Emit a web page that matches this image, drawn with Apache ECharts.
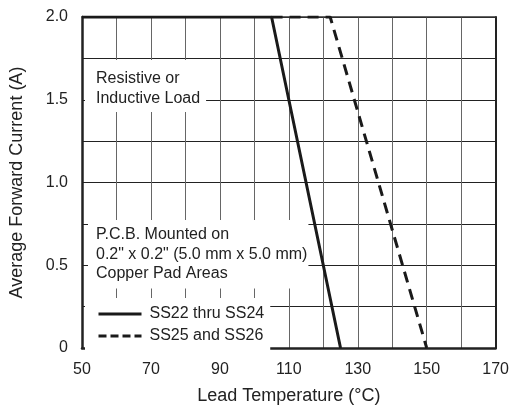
<!DOCTYPE html>
<html><head><meta charset="utf-8">
<script src="https://cdn.jsdelivr.net/npm/echarts@6/dist/echarts.min.js"></script>
<style>html,body{margin:0;padding:0;background:#fff}#c{width:512px;height:410px}</style>
</head><body><div id="c"></div>
<script>
var solidName = 'SS22 thru SS24';
var dashedName = 'SS25 and SS26';
var solidData = [[50, 2.0], [105, 2.0], [125, 0]];
var dashedData = [[105, 2.0], [122, 2.0], [150, 0]];
var xTickLabels = [50, 70, 90, 110, 130, 150, 170];
var yTickLabels = {0: '0', 0.5: '0.5', 1: '1.0', 1.5: '1.5', 2: '2.0'};
var note1 = 'Resistive or\nInductive Load';
var note2 = 'P.C.B. Mounted on\n0.2" x 0.2" (5.0 mm x 5.0 mm)\nCopper Pad Areas';

var font = 'Liberation Sans, Arial, sans-serif';
var chart = echarts.init(document.getElementById('c'));
chart.setOption({
  animation: false,
  color: ['#1a1a1a', '#1a1a1a'],
  grid: {left: 82, right: 15, top: 17, bottom: 55},
  xAxis: [{
    type: 'value', min: 50, max: 170, interval: 10,
    name: 'Lead Temperature (°C)', nameLocation: 'middle', nameGap: 39,
    nameTextStyle: {fontFamily: font, fontSize: 18, color: '#222'},
    axisLine: {lineStyle: {color: '#222', width: 2.5}},
    axisTick: {show: false},
    axisLabel: {fontFamily: font, fontSize: 16, color: '#222', margin: 14,
      formatter: function (v) { return xTickLabels.indexOf(v) >= 0 ? String(v) : ''; }},
    splitLine: {show: true, lineStyle: {color: '#666', width: 1}}
  }, {
    type: 'value', min: 50, max: 170, position: 'top',
    axisLine: {show: true, onZero: false, lineStyle: {color: '#333', width: 1.5}},
    axisTick: {show: false}, axisLabel: {show: false}, splitLine: {show: false}
  }],
  yAxis: [{
    type: 'value', min: 0, max: 2, interval: 0.25,
    name: 'Average Forward Current (A)', nameLocation: 'middle', nameGap: 56,
    nameTextStyle: {fontFamily: font, fontSize: 18, color: '#222'},
    axisLine: {show: true, lineStyle: {color: '#222', width: 2.5}},
    axisTick: {show: false},
    axisLabel: {fontFamily: font, fontSize: 16, color: '#222', margin: 14,
      formatter: function (v) { return yTickLabels[v] !== undefined ? yTickLabels[v] : ''; }},
    splitLine: {show: true, lineStyle: {color: '#222', width: 1}}
  }, {
    type: 'value', min: 0, max: 2, position: 'right',
    axisLine: {show: true, onZero: false, lineStyle: {color: '#222', width: 2}},
    axisTick: {show: false}, axisLabel: {show: false}, splitLine: {show: false}
  }],
  legend: {
    orient: 'vertical', left: 85, top: 298, itemGap: 6, itemWidth: 43, itemHeight: 14,
    backgroundColor: '#fff', padding: [8, 6, 7, 12],
    textStyle: {fontFamily: font, fontSize: 16, color: '#222', padding: [0, 0, 0, 3]},
    data: [
      {name: solidName, itemStyle: {opacity: 0}, lineStyle: {width: 3, color: '#1a1a1a'}},
      {name: dashedName, itemStyle: {opacity: 0}, lineStyle: {width: 3, color: '#1a1a1a', type: [8, 4]}}
    ]
  },
  graphic: [
    {type: 'text', left: 85, top: 60, z: 1,
     style: {text: note1, font: '16px ' + font, fill: '#222', lineHeight: 20,
       backgroundColor: '#fff', padding: [9, 6, 3, 11]}},
    {type: 'text', left: 88, top: 220, z: 1,
     style: {text: note2, font: '16px ' + font, fill: '#222', lineHeight: 19.5,
       backgroundColor: '#fff', padding: [5, 1, 5, 8]}}
  ],
  series: [{
    name: solidName, type: 'line', data: solidData, symbol: 'none', z: 5,
    itemStyle: {color: '#1a1a1a'},
    lineStyle: {color: '#1a1a1a', width: 3}
  }, {
    name: dashedName, type: 'line', data: dashedData, symbol: 'none', z: 4,
    itemStyle: {color: '#1a1a1a'},
    lineStyle: {color: '#1a1a1a', width: 3, type: [11, 7]}
  }]
});
</script></body></html>
